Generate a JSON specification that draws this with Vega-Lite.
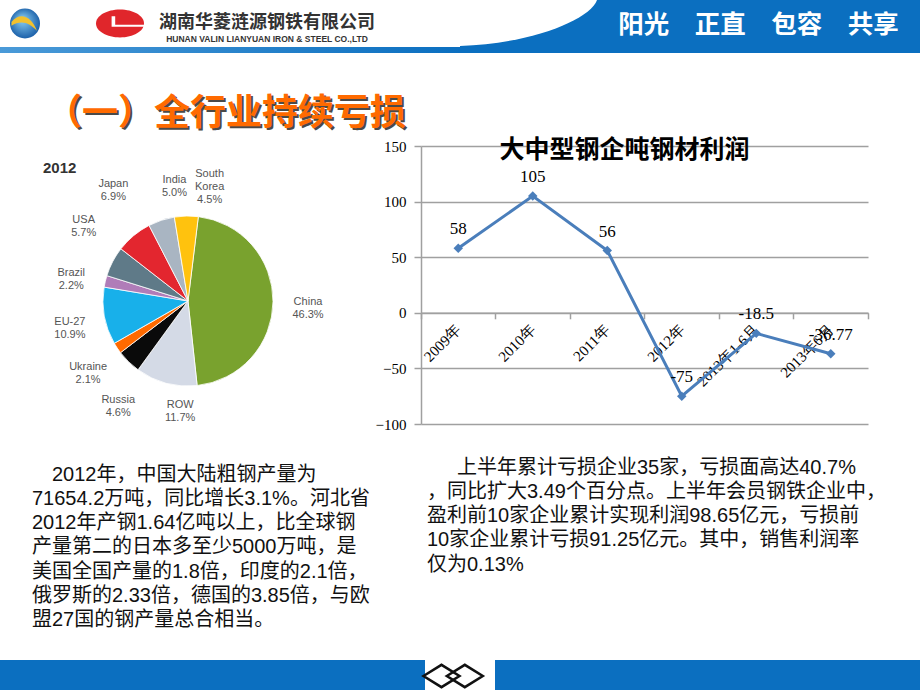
{
  "$schema": "https://vega.github.io/schema/vega-lite/v6.json",
  "padding": 0,
  "background": "white",
  "spacing": 0,
  "config": {
    "view": {"stroke": null},
    "concat": {"spacing": 0},
    "font": "Liberation Sans"
  },
  "datasets": {
    "profit": [
      {"period": "2009年", "value": 58},
      {"period": "2010年", "value": 105},
      {"period": "2011年", "value": 56},
      {"period": "2012年", "value": -75},
      {"period": "2013年1-6月", "value": -18.5},
      {"period": "2013年6月", "value": -36.77}
    ],
    "steel2012": [
      {"idx": 1, "country": "China", "share": 46.3, "label": "China\n46.3%"},
      {"idx": 2, "country": "ROW", "share": 11.7, "label": "ROW\n11.7%"},
      {"idx": 3, "country": "Russia", "share": 4.6, "label": "Russia\n4.6%"},
      {"idx": 4, "country": "Ukraine", "share": 2.1, "label": "Ukraine\n2.1%"},
      {"idx": 5, "country": "EU-27", "share": 10.9, "label": "EU-27\n10.9%"},
      {"idx": 6, "country": "Brazil", "share": 2.2, "label": "Brazil\n2.2%"},
      {"idx": 7, "country": "USA", "share": 5.7, "label": "USA\n5.7%"},
      {"idx": 8, "country": "Japan", "share": 6.9, "label": "Japan\n6.9%"},
      {"idx": 9, "country": "India", "share": 5.0, "label": "India\n5.0%"},
      {"idx": 10, "country": "South Korea", "share": 4.5, "label": "South\nKorea\n4.5%"}
    ]
  },
  "vconcat": [
    {
      "bounds": "flush",
      "spacing": 0,
      "hconcat": [
        {
          "width": 50, "height": 47,
          "data": {"values": [{}]},
          "layer": [
            {"mark": {"type": "point", "shape": "circle", "filled": true, "size": 900, "opacity": 1, "strokeWidth": 0,
              "color": {"gradient": "radial", "x1": 0.4, "y1": 0.35, "r1": 0, "x2": 0.5, "y2": 0.5, "r2": 0.6,
                "stops": [{"offset": 0, "color": "#8fd3f5"}, {"offset": 1, "color": "#0a4f9e"}]}},
             "encoding": {}},
            {"mark": {"type": "point", "shape": "M-0.9,-0.1C-0.4,-0.75,0.4,-0.6,0.8,0.5C0.3,-0.1,-0.3,-0.25,-0.9,0.15Z", "filled": true, "size": 900, "opacity": 1, "strokeWidth": 0, "color": "#f2c12e"},
             "encoding": {}}
          ]
        },
        {
          "width": 140, "height": 47,
          "data": {"values": [{}]},
          "layer": [
            {"mark": {"type": "point", "shape": "M-1,0A1,0.58,0,1,1,1,0A1,0.58,0,1,1,-1,0Z", "filled": true, "size": 2304, "opacity": 1, "strokeWidth": 0, "color": "#e0262b"},
             "encoding": {}},
            {"mark": {"type": "point", "shape": "M-0.35,-0.3L-0.2,-0.3L-0.2,0.05L1,0.05L1,0.14L-0.35,0.14Z", "filled": true, "size": 2304, "opacity": 1, "strokeWidth": 0, "color": "#ffffff"},
             "encoding": {}}
          ]
        },
        {
          "width": 154, "height": 47,
          "data": {"values": [{"cn": "湖南华菱涟源钢铁有限公司", "en": "HUNAN VALIN  LIANYUAN IRON & STEEL  CO.,LTD"}]},
          "layer": [
            {"mark": {"type": "text", "dy": -1, "font": "Noto Sans CJK SC", "fontSize": 18, "fontWeight": "bold", "color": "#333333"},
             "encoding": {"text": {"field": "cn"}}},
            {"mark": {"type": "text", "dy": 15, "font": "Liberation Sans", "fontSize": 8.5, "fontWeight": "bold", "color": "#333333"},
             "encoding": {"text": {"field": "en"}}}
          ]
        },
        {
          "width": 116, "height": 47,
          "data": {"values": [{}]},
          "mark": {"type": "rect", "opacity": 0},
          "encoding": {}
        },
        {
          "width": 137, "height": 47,
          "view": {"fill": "#0b6fc0"},
          "data": {"values": [{}]},
          "mark": {"type": "point", "shape": "M-1,-0.343L1,-0.343C0.898,-0.051,0.022,0.299,-1,0.328Z", "filled": true, "size": 18769, "opacity": 1, "strokeWidth": 0, "color": "#ffffff"},
          "encoding": {}
        },
        {
          "width": 323, "height": 47,
          "view": {"fill": "#0b6fc0"},
          "data": {"values": [{"t": "阳光　正直　包容　共享"}]},
          "mark": {"type": "text", "dy": 1, "font": "Noto Sans CJK SC", "fontSize": 25.5, "fontWeight": "bold", "color": "#ffffff"},
          "encoding": {"text": {"field": "t"}}
        }
      ]
    },
    {
      "bounds": "flush",
      "spacing": 0,
      "hconcat": [
        {
          "width": 460, "height": 6,
          "data": {"values": [{}]},
          "mark": {"type": "rect", "color": {"gradient": "linear", "x1": 0, "x2": 1, "y1": 0, "y2": 0,
            "stops": [{"offset": 0, "color": "#4a9ad8"}, {"offset": 1, "color": "#0b6fc0"}]}},
          "encoding": {}
        },
        {
          "width": 460, "height": 6,
          "data": {"values": [{}]},
          "mark": {"type": "rect", "color": "#0b6fc0"},
          "encoding": {}
        }
      ]
    },
    {
      "width": 464, "height": 85,
      "data": {"values": [{"t": "（一）全行业持续亏损"}]},
      "layer": [
        {"mark": {"type": "text", "dx": -4, "dy": 20.5, "font": "Noto Sans CJK SC", "fontSize": 36, "fontWeight": "bold", "color": "#4a4a4a"},
         "encoding": {"text": {"field": "t"}}},
        {"mark": {"type": "text", "dx": -6, "dy": 18.5, "font": "Noto Sans CJK SC", "fontSize": 36, "fontWeight": "bold", "color": "#ff6a00"},
         "encoding": {"text": {"field": "t"}}}
      ]
    },
    {
      "bounds": "flush",
      "spacing": 0,
      "hconcat": [
        {
          "width": 376, "height": 310,
          "data": {"name": "steel2012"},
          "title": {"text": "2012", "anchor": "start", "frame": "group", "dx": 43, "offset": -37, "baseline": "middle", "font": "Liberation Sans", "fontSize": 15, "fontWeight": "bold", "color": "#333333"},
          "encoding": {
            "theta": {"field": "share", "type": "quantitative", "stack": true, "scale": {"range": [0.122, 6.405]}},
            "order": {"field": "idx", "type": "quantitative"}
          },
          "layer": [
            {"mark": {"type": "arc", "radius": 85, "stroke": "#ffffff", "strokeWidth": 0.8},
             "encoding": {"color": {"field": "country", "type": "nominal", "legend": null,
               "scale": {"domain": ["China", "ROW", "Russia", "Ukraine", "EU-27", "Brazil", "USA", "Japan", "India", "South Korea"],
                         "range": ["#79a22e", "#d4dae6", "#0a0a0a", "#ff6a00", "#18b0ea", "#b07cb8", "#5f7a88", "#e3262f", "#a9b5c2", "#ffc20e"]}}}},
            {"mark": {"type": "text", "radius": 120, "lineBreak": "\n", "font": "Liberation Sans", "fontSize": 11, "color": "#555555"},
             "encoding": {"text": {"condition": {"test": "indexof(['China', 'EU-27', 'Brazil', 'Ukraine'], datum.country) >= 0", "field": "label"}, "value": ""}}},
            {"mark": {"type": "text", "radius": 120, "dx": 14, "dy": 13, "lineBreak": "\n", "font": "Liberation Sans", "fontSize": 11, "color": "#555555"},
             "encoding": {"text": {"condition": {"test": "datum.country === 'Russia'", "field": "label"}, "value": ""}}},
            {"mark": {"type": "text", "radius": 120, "dx": 2, "dy": -25, "lineBreak": "\n", "font": "Liberation Sans", "fontSize": 11, "color": "#555555"},
             "encoding": {"text": {"condition": {"test": "datum.country === 'USA' || datum.country === 'Japan'", "field": "label"}, "value": ""}}},
            {"mark": {"type": "text", "radius": 120, "dx": 24, "dy": -7, "lineBreak": "\n", "font": "Liberation Sans", "fontSize": 11, "color": "#555555"},
             "encoding": {"text": {"condition": {"test": "datum.country === 'India' || datum.country === 'South Korea'", "field": "label"}, "value": ""}}},
            {"mark": {"type": "text", "radius": 120, "dx": 23, "dy": -12, "lineBreak": "\n", "font": "Liberation Sans", "fontSize": 11, "color": "#555555"},
             "encoding": {"text": {"condition": {"test": "datum.country === 'ROW'", "field": "label"}, "value": ""}}}
          ]
        },
        {
          "width": 45, "height": 10,
          "data": {"values": [{}]},
          "mark": {"type": "rect", "opacity": 0},
          "encoding": {}
        },
        {
          "width": 447, "height": 278,
          "data": {"name": "profit"},
          "title": {"text": "大中型钢企吨钢材利润", "anchor": "middle", "frame": "group", "dx": -20, "offset": -36, "baseline": "middle", "font": "Noto Sans CJK SC", "fontSize": 25, "fontWeight": "bold", "color": "#000000"},
          "encoding": {
            "x": {"field": "period", "type": "nominal", "sort": null,
              "scale": {"type": "band", "paddingInner": 0, "paddingOuter": 0},
              "axis": {"title": null, "orient": "bottom", "offset": -111.2, "bandPosition": 1, "tickExtra": true,
                "labelAngle": -45, "labelAlign": "right", "labelBaseline": "middle", "labelPadding": 8, "labelOverlap": false, "labelBound": false, "labelFlush": false,
                "labelFont": "Liberation Serif", "labelFontSize": 15, "labelColor": "#000000",
                "tickSize": 6, "tickColor": "#a0a0a0", "tickWidth": 1.5, "domainColor": "#a0a0a0", "domainWidth": 1.5, "grid": false}},
            "y": {"field": "value", "type": "quantitative",
              "scale": {"domain": [-100, 150], "nice": false, "zero": false},
              "axis": {"title": null, "values": [-100, -50, 0, 50, 100, 150], "grid": true, "gridColor": "#a0a0a0", "gridWidth": 1.5,
                "domainColor": "#a0a0a0", "domainWidth": 1.5, "tickColor": "#a0a0a0", "tickWidth": 1.5, "tickSize": 7, "labelPadding": 8,
                "labelFont": "Liberation Serif", "labelFontSize": 15, "labelColor": "#000000"}}
          },
          "layer": [
            {"mark": {"type": "line", "color": "#4a7ebb", "strokeWidth": 3}},
            {"mark": {"type": "point", "shape": "diamond", "filled": true, "size": 90, "color": "#4a7ebb", "opacity": 1}},
            {"mark": {"type": "text", "dy": -19, "font": "Liberation Serif", "fontSize": 17, "color": "#000000"},
             "encoding": {"text": {"field": "value", "type": "nominal"}}}
          ]
        }
      ]
    },
    {
      "bounds": "flush",
      "spacing": 0,
      "hconcat": [
        {
          "width": 64, "height": 17,
          "data": {"values": [{"t": "\u200b\u30002012年，中国大陆粗钢产量为\n71654.2万吨，同比增长3.1%。河北省\n2012年产钢1.64亿吨以上，比全球钢\n产量第二的日本多至少5000万吨，是\n美国全国产量的1.8倍，印度的2.1倍，\n俄罗斯的2.33倍，德国的3.85倍，与欧\n盟27国的钢产量总合相当。"}]},
          "mark": {"type": "text", "align": "left", "baseline": "top", "lineBreak": "\n", "lineHeight": 24.3, "font": "Liberation Sans, Noto Sans CJK SC", "fontSize": 20, "color": "#111111"},
          "encoding": {"text": {"field": "t"}}
        },
        {
          "width": 726, "height": 3,
          "data": {"values": [{"t": "\u200b\u3000\u2002上半年累计亏损企业35家，亏损面高达40.7%\n，同比扩大3.49个百分点。上半年会员钢铁企业中，\n盈利前10家企业累计实现利润98.65亿元，亏损前\n10家企业累计亏损91.25亿元。其中，销售利润率\n仅为0.13%"}]},
          "mark": {"type": "text", "align": "left", "baseline": "top", "lineBreak": "\n", "lineHeight": 24.3, "font": "Liberation Sans, Noto Sans CJK SC", "fontSize": 20, "color": "#111111"},
          "encoding": {"text": {"field": "t"}}
        },
        {
          "width": 130, "height": 203,
          "data": {"values": [{}]},
          "mark": {"type": "rect", "opacity": 0},
          "encoding": {}
        }
      ]
    },
    {
      "bounds": "flush",
      "spacing": 0,
      "hconcat": [
        {
          "width": 425, "height": 32,
          "data": {"values": [{}]},
          "mark": {"type": "rect", "color": "#0b6fc0"},
          "encoding": {}
        },
        {
          "width": 70, "height": 32,
          "data": {"values": [{"k": "a"}, {"k": "b"}]},
          "mark": {"type": "point", "shape": "M-1,0L0,-0.62L1,0L0,0.62Z", "filled": false, "size": 1296, "opacity": 1, "strokeWidth": 2.5, "color": "#111111"},
          "encoding": {
            "x": {"field": "k", "type": "nominal", "axis": null, "scale": {"type": "point", "padding": 1.342, "align": 0.353}}
          }
        },
        {
          "width": 425, "height": 32,
          "data": {"values": [{}]},
          "mark": {"type": "rect", "color": "#0b6fc0"},
          "encoding": {}
        }
      ]
    }
  ]
}
